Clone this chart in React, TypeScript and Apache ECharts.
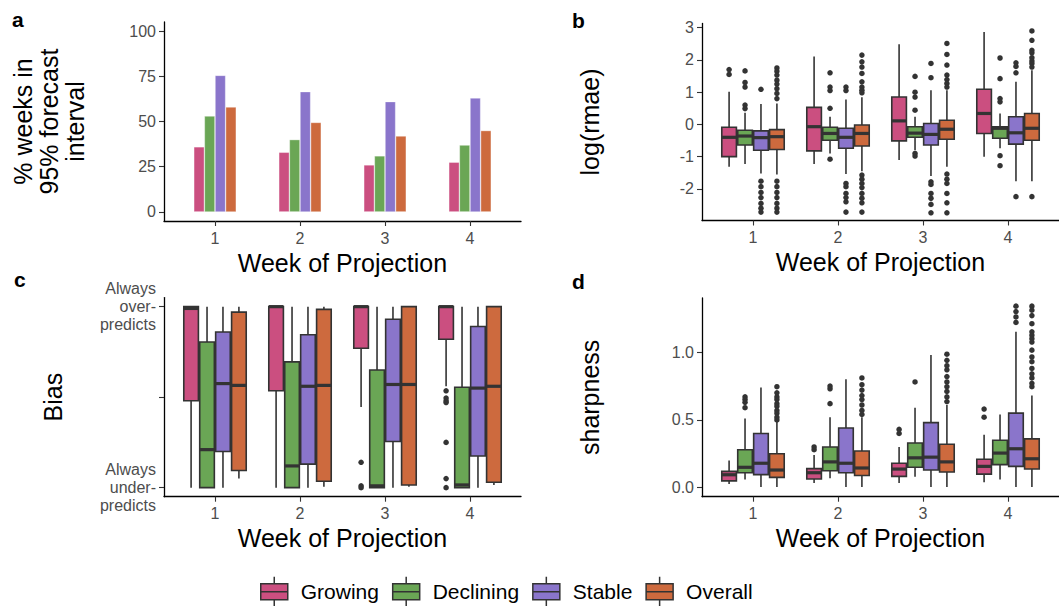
import React, { useEffect, useRef } from "react";
import * as echarts from "echarts";

const FONT = "'Liberation Sans', Arial, Helvetica, sans-serif";

const weeks = [1, 2, 3, 4];
const groups = ["Growing", "Declining", "Stable", "Overall"];
const colors = ["#CB4F80", "#6AA655", "#8A75CB", "#CD6A3E"];

// Panel a: % weeks in 95% forecast interval
const coverageGrowing = [36, 33, 26, 27.5];
const coverageDeclining = [53, 40, 31, 37];
const coverageStable = [75.5, 66.5, 61, 63];
const coverageOverall = [58, 49.5, 42, 45];

// Panel b: log(rmae) boxes [min, q1, median, q3, max]
const rmaeGrowing = [[-1.31, -1.0, -0.4, -0.09, 1.01], [-1.23, -0.82, -0.07, 0.53, 2.11], [-1.1, -0.51, 0.11, 0.85, 2.49], [-1.0, -0.28, 0.34, 1.09, 2.87]];
const rmaeDeclining = [[-1.23, -0.64, -0.36, -0.18, 0.36], [-0.9, -0.49, -0.28, -0.09, 0.24], [-0.8, -0.4, -0.27, -0.07, 0.24], [-0.74, -0.43, -0.12, -0.07, 0.34]];
const rmaeStable = [[-1.52, -0.8, -0.41, -0.2, 0.63], [-1.54, -0.74, -0.4, -0.12, 0.77], [-1.6, -0.64, -0.31, 0.03, 1.06], [-1.76, -0.61, -0.26, 0.24, 1.32]];
const rmaeOverall = [[-1.55, -0.78, -0.38, -0.16, 0.65], [-1.45, -0.67, -0.28, -0.02, 0.84], [-1.31, -0.46, -0.15, 0.13, 1.06], [-1.76, -0.49, -0.12, 0.34, 1.68]];
const rmaeGrowingOut = [[1.7, 1.55], [], [], []];
const rmaeDecliningOut = [[1.66, 1.3, 1.16, 0.6, 0.49], [1.6, 1.16, 1.05, 0.5, -1.08], [1.49, 1.0, 0.85, 0.44, -0.9, -0.98], [2.06, 1.42, 0.8, 0.7, -0.97, -1.28]];
const rmaeStableOut = [[1.09, -1.76, -1.93, -2.11, -2.27, -2.45, -2.6, -2.72], [1.16, 1.05, -1.83, -1.93, -2.14, -2.27, -2.4, -2.72], [1.89, 1.45, -1.78, -1.86, -2.14, -2.29, -2.48, -2.74], [1.91, 1.8, 1.6, -2.24]];
const rmaeOverallOut = [
  [1.75, 1.65, 1.53, 1.37, 1.25, 1.11, 0.96, 0.8, -1.76, -1.93, -2.11, -2.27, -2.45, -2.6, -2.72],
  [2.15, 1.94, 1.78, 1.58, 1.32, 1.16, 1.06, 0.98, -1.57, -1.7, -1.83, -1.96, -2.14, -2.29, -2.43, -2.72],
  [2.51, 2.17, 1.84, 1.53, 1.39, 1.27, 1.16, -1.54, -1.7, -1.83, -2.14, -2.43, -2.74],
  [2.9, 2.61, 2.3, 2.22, 2.07, 1.97, 1.89, 1.78, -2.24],
];

// Panel c: Bias
const biasGrowing = [[-1, -0.04, 0.98, 1, 1], [-1, 0.07, 1, 1, 1], [-0.11, 0.54, 1, 1, 1], [0.12, 0.64, 1, 1, 1]];
const biasDeclining = [[-1, -1, -0.58, 0.61, 1], [-1, -1, -0.76, 0.39, 1], [-1, -1, -0.98, 0.3, 1], [-1, -1, -0.97, 0.11, 1]];
const biasStable = [[-1, -0.6, 0.15, 0.72, 1], [-1, -0.74, 0.12, 0.69, 1], [-1, -0.49, 0.14, 0.86, 1], [-1, -0.65, 0.1, 0.78, 1]];
const biasOverall = [[-0.9, -0.81, 0.13, 0.94, 1], [-0.99, -0.93, 0.13, 0.97, 1], [-0.99, -0.97, 0.14, 1, 1], [-0.97, -0.94, 0.12, 1, 1]];
const biasGrowingOut = [[], [], [-0.72, -0.98, -1.0], [0.07, -0.01, -0.04, -0.06, -0.5, -0.9, -1.0]];
const biasTickValues = [-1, 0, 1];
const biasTickLabels = ["Always\nunder-\npredicts", "", "Always\nover-\npredicts"];

// Panel d: sharpness
const sharpGrowing = [[0.027, 0.05, 0.095, 0.12, 0.2], [0.034, 0.064, 0.11, 0.14, 0.24], [0.034, 0.083, 0.137, 0.18, 0.3], [0.04, 0.1, 0.157, 0.21, 0.39]];
const sharpDeclining = [[0.06, 0.11, 0.15, 0.28, 0.51], [0.07, 0.125, 0.19, 0.3, 0.52], [0.08, 0.15, 0.22, 0.33, 0.59], [0.06, 0.17, 0.255, 0.35, 0.54]];
const sharpStable = [[0.005, 0.096, 0.18, 0.4, 0.74], [0.005, 0.11, 0.18, 0.44, 0.8], [0.005, 0.13, 0.225, 0.48, 0.98], [0.005, 0.157, 0.287, 0.55, 1.15]];
const sharpOverall = [[0.005, 0.076, 0.13, 0.25, 0.49], [0.005, 0.09, 0.145, 0.27, 0.52], [0.005, 0.115, 0.19, 0.32, 0.61], [0.005, 0.137, 0.213, 0.36, 0.68]];
const sharpGrowingOut = [[], [0.3, 0.28], [0.43, 0.4], [0.58, 0.52]];
const sharpDecliningOut = [[0.67, 0.65, 0.63, 0.59], [0.75, 0.73, 0.62], [0.78], []];
const sharpStableOut = [[], [], [], [1.34, 1.3, 1.26, 1.22]];
const sharpOverallOut = [
  [0.745, 0.7, 0.67, 0.65, 0.62, 0.6, 0.57, 0.55, 0.52, 0.5],
  [0.81, 0.76, 0.72, 0.68, 0.65, 0.61, 0.57, 0.54],
  [0.985, 0.94, 0.9, 0.87, 0.82, 0.78, 0.745, 0.71, 0.67, 0.635],
  [1.34, 1.31, 1.27, 1.21, 1.15, 1.125, 1.1, 1.075, 1.015, 0.965, 0.93, 0.88, 0.84, 0.81, 0.77, 0.745],
];

const DODGE = 0.1875;
const BOX_W = 0.172;
const BAR_W = 0.125;
const INK = "#333333";
const TICK = "#4D4D4D";

function boxSeries(name: string, color: string, boxes: number[][], idx: number, gi: number) {
  const off = (idx - 1.5) * DODGE;
  return {
    type: "custom",
    name,
    xAxisIndex: gi,
    yAxisIndex: gi,
    itemStyle: { color },
    encode: { x: 0, y: [1, 2, 3, 4, 5] },
    data: boxes.map((b, w) => [weeks[w] + off, ...b]),
    renderItem: (params: any, api: any) => {
      const x = api.value(0);
      const pt = (k: number) => api.coord([x, api.value(k)]);
      const [cx, yMin] = pt(1);
      const yQ1 = pt(2)[1];
      const yMed = pt(3)[1];
      const yQ3 = pt(4)[1];
      const yMax = pt(5)[1];
      const hw = api.size([BOX_W, 0])[0] / 2;
      const fill = api.visual("color");
      return {
        type: "group",
        children: [
          { type: "line", shape: { x1: cx, y1: yMax, x2: cx, y2: yQ3 }, style: { stroke: INK, lineWidth: 1.6 } },
          { type: "line", shape: { x1: cx, y1: yQ1, x2: cx, y2: yMin }, style: { stroke: INK, lineWidth: 1.6 } },
          { type: "rect", shape: { x: cx - hw, y: yQ3, width: hw * 2, height: yQ1 - yQ3 }, style: { fill, stroke: INK, lineWidth: 1.6 } },
          { type: "line", shape: { x1: cx - hw, y1: yMed, x2: cx + hw, y2: yMed }, style: { stroke: INK, lineWidth: 3.2 } },
        ],
      };
    },
  };
}

function outlierSeries(name: string, pts: number[][], idx: number, gi: number) {
  const off = (idx - 1.5) * DODGE;
  const data: number[][] = [];
  pts.forEach((list, w) => list.forEach((v) => data.push([weeks[w] + off, v])));
  return {
    type: "scatter",
    name: name + " outliers",
    xAxisIndex: gi,
    yAxisIndex: gi,
    symbol: "circle",
    symbolSize: 5.5,
    itemStyle: { color: INK, opacity: 1 },
    data,
  };
}

function barSeries(name: string, color: string, values: number[], idx: number) {
  const off = (idx - 1.5) * BAR_W;
  return {
    type: "bar",
    name,
    xAxisIndex: 0,
    yAxisIndex: 0,
    barWidth: 10.6,
    barGap: "-100%",
    itemStyle: { color, borderColor: "rgba(255,255,255,0.55)", borderWidth: 0.6 },
    data: values.map((v, w) => [weeks[w] + off, v]),
  };
}

function xAxis(gi: number) {
  return {
    type: "value",
    gridIndex: gi,
    min: 0.4,
    max: 4.6,
    name: "Week of Projection",
    nameLocation: "middle",
    nameGap: 29,
    nameMoveOverlap: false,
    nameTextStyle: { fontSize: 25, color: "#000", fontFamily: FONT },
    axisLine: { show: true, onZero: false, lineStyle: { color: "#000", width: 1.3 } },
    axisTick: { show: true, length: 5, customValues: weeks, lineStyle: { color: INK, width: 1.1 } },
    axisLabel: { customValues: weeks, fontSize: 16, color: TICK, fontFamily: FONT, margin: 9, formatter: (v: number) => String(v) },
    splitLine: { show: false },
  };
}

function yAxis(gi: number, min: number, max: number, ticks: number[], name: string, nameGap: number, formatter: (v: number) => string, extraName: any = {}, extraLabel: any = {}) {
  return {
    type: "value",
    gridIndex: gi,
    min,
    max,
    name,
    nameLocation: "middle",
    nameRotate: 90,
    nameGap,
    nameMoveOverlap: false,
    nameTextStyle: { fontSize: 25, color: "#000", fontFamily: FONT, ...extraName },
    axisLine: { show: true, onZero: false, lineStyle: { color: "#000", width: 1.3 } },
    axisTick: { show: true, length: 5, customValues: ticks, lineStyle: { color: INK, width: 1.1 } },
    axisLabel: { customValues: ticks, fontSize: 16, color: TICK, fontFamily: FONT, margin: 8, formatter, ...extraLabel },
    splitLine: { show: false },
  };
}

const ICON = "path://M0,7H27V23H0Z M0,15H27 M13.5,0V7 M13.5,23V30";

export default function App() {
  const ref = useRef<HTMLDivElement>(null);
  useEffect(() => {
    if (!ref.current) return;
    const chart = echarts.init(ref.current, null, { renderer: "svg" });
    const coverage = [coverageGrowing, coverageDeclining, coverageStable, coverageOverall];
    const rmae = [rmaeGrowing, rmaeDeclining, rmaeStable, rmaeOverall];
    const rmaeOut = [rmaeGrowingOut, rmaeDecliningOut, rmaeStableOut, rmaeOverallOut];
    const bias = [biasGrowing, biasDeclining, biasStable, biasOverall];
    const biasOut = [biasGrowingOut, [], [], []];
    const sharp = [sharpGrowing, sharpDeclining, sharpStable, sharpOverall];
    const sharpOut = [sharpGrowingOut, sharpDecliningOut, sharpStableOut, sharpOverallOut];

    const series: any[] = [];
    groups.forEach((g, i) => series.push(barSeries(g, colors[i], coverage[i], i)));
    groups.forEach((g, i) => series.push(boxSeries(g, colors[i], rmae[i], i, 1)));
    groups.forEach((g, i) => series.push(boxSeries(g, colors[i], bias[i], i, 2)));
    groups.forEach((g, i) => series.push(boxSeries(g, colors[i], sharp[i], i, 3)));
    groups.forEach((g, i) => {
      if (rmaeOut[i].length) series.push(outlierSeries(g, rmaeOut[i], i, 1));
      if (biasOut[i].length) series.push(outlierSeries(g, biasOut[i] as number[][], i, 2));
      if (sharpOut[i].length) series.push(outlierSeries(g, sharpOut[i], i, 3));
    });

    const panelLabel = (text: string, x: number, y: number) => ({
      type: "text",
      x,
      y,
      style: { text, font: `bold 21px ${FONT}`, fill: "#000", verticalAlign: "middle" },
    });

    chart.setOption({
      animation: false,
      backgroundColor: "#fff",
      textStyle: { fontFamily: FONT },
      grid: [
        { left: 164, top: 22, width: 357, height: 199, outerBoundsMode: "none", containLabel: false },
        { left: 702, top: 23.5, width: 357, height: 197, outerBoundsMode: "none", containLabel: false },
        { left: 164, top: 297.6, width: 357, height: 199.1, outerBoundsMode: "none", containLabel: false },
        { left: 702, top: 298, width: 357, height: 198.7, outerBoundsMode: "none", containLabel: false },
      ],
      xAxis: [xAxis(0), xAxis(1), xAxis(2), xAxis(3)],
      yAxis: [
        yAxis(0, -5, 105, [0, 25, 50, 75, 100], "% weeks in\n95% forecast\ninterval", 76, (v) => String(v), { lineHeight: 26 }),
        yAxis(1, -2.98, 3.13, [-2, -1, 0, 1, 2, 3], "log(rmae)", 100, (v) => String(v)),
        yAxis(2, -1.1, 1.1, biasTickValues, "Bias", 99, (v) => {
          const k = biasTickValues.indexOf(v);
          return k >= 0 ? biasTickLabels[k] : "";
        }, {}, { lineHeight: 18, align: "right" }),
        yAxis(3, -0.067, 1.4, [0, 0.5, 1], "sharpness", 100, (v) => v.toFixed(1)),
      ],
      legend: {
        left: 260,
        top: 576,
        padding: 0,
        orient: "horizontal",
        itemWidth: 27,
        itemHeight: 30,
        itemGap: 13,
        selectedMode: false,
        itemStyle: { borderColor: INK, borderWidth: 1.5 },
        textStyle: { fontSize: 21, color: "#000", fontFamily: FONT, padding: [0, 0, 0, 8] },
        data: groups.map((name) => ({ name, icon: ICON })),
      },
      graphic: [
        panelLabel("a", 12, 19.5),
        panelLabel("b", 572, 20.5),
        panelLabel("c", 14, 279),
        panelLabel("d", 572, 281.5),
      ],
      series,
    });
    return () => chart.dispose();
  }, []);
  return (
    <div
      ref={ref}
      style={{ position: "fixed", left: 0, top: 0, width: 1059, height: 606, background: "#fff" }}
    />
  );
}
